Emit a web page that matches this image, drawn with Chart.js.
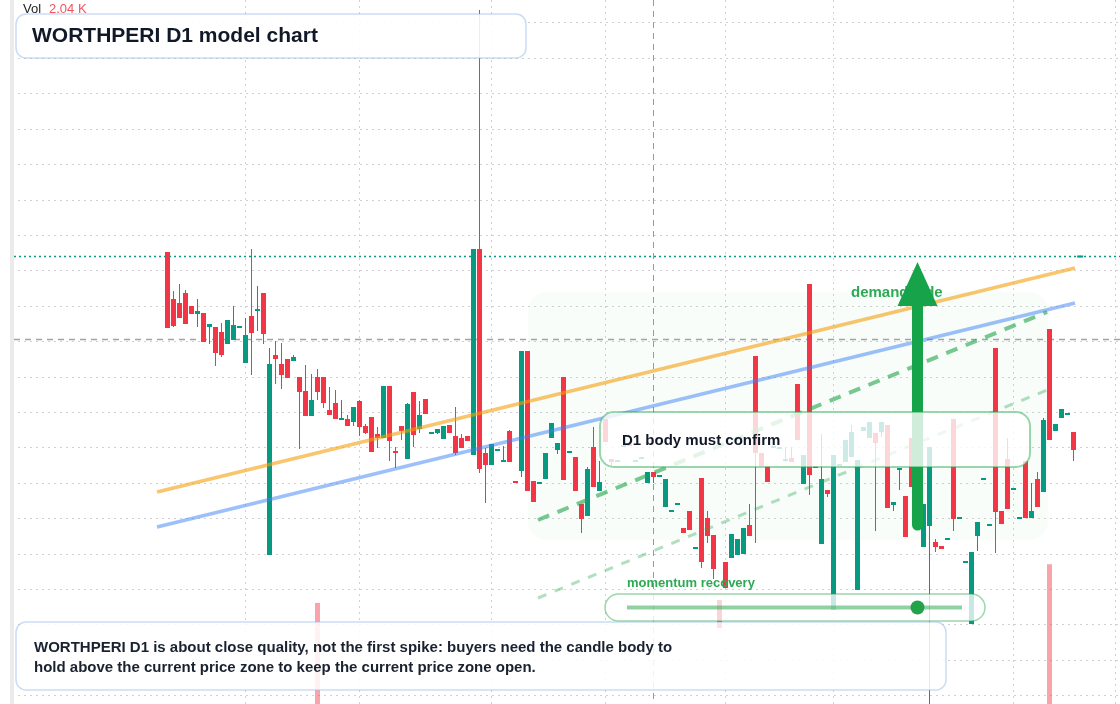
<!DOCTYPE html>
<html>

<head>
  <meta charset="utf-8">
  <title>WORTHPERI D1 model chart</title>
  <style>
    html, body { margin: 0; padding: 0; background: #fff; }
    #wrap { position: relative; width: 1120px; height: 704px; overflow: hidden; }
    #chart { position: absolute; left: 0; top: 0; }
    #edge { position: absolute; left: 0; top: 0; width: 10px; height: 704px; background: #fff; }
    #strip { position: absolute; left: 10px; top: 0; width: 4px; height: 704px; background: #ebebeb; }
  </style>
</head>

<body>
  <div id="wrap">
    <canvas id="chart" width="1120" height="704"></canvas>
    <div id="edge"></div>
    <div id="strip"></div>
  </div>
  <script src="https://cdn.jsdelivr.net/npm/chart.js"></script>
  <script>
    // daily candles, index 0 = first bar on the chart
    const opens = [
      54.8, 50.1, 49.7, 50.7, 49.4, 48.6, 48.7, 47.3, 47.3, 46.8,
      45.6, 46.0, 47.2, 43.7, 48.4, 48.9, 50.7, 24.5, 44.5, 43.6,
      44.1, 43.9, 42.3, 40.9, 38.4, 42.3, 42.3, 39.0, 39.7, 38.0,
      38.1, 37.8, 39.9, 37.4, 38.3, 36.6, 36.2, 41.4, 34.9, 37.4,
      34.1, 40.8, 37.1, 40.1, 36.6, 36.7, 36.1, 37.5, 36.4, 36.2,
      36.4, 34.5, 55.1, 34.7, 33.5, 34.9, 33.8, 36.9, 31.8, 32.9,
      44.9, 31.9, 31.6, 32.1, 36.2, 35.0, 42.3, 34.7, 34.3, 29.6,
      28.4, 35.3, 30.9, 38.1, 34.1, 33.8, 35.3, 35.6, 33.8, 34.1,
      31.7, 32.8, 32.3, 29.3, 28.8, 29.5, 27.2, 28.9, 25.1, 32.2,
      28.2, 26.5, 20.0, 23.8, 24.2, 24.5, 24.6, 27.5, 44.4, 34.7,
      33.4, 35.2, 35.1, 33.9, 34.2, 41.6, 31.6, 51.6, 33.4, 25.6,
      31.0, 19.0, 33.4, 33.8, 34.3, 21.0, 36.9, 36.2, 36.7, 36.8,
      37.5, 29.5, 33.0, 30.4, 36.2, 29.5, 25.3, 27.4, 25.8, 25.4,
      26.0, 38.1, 28.1, 23.7, 17.6, 26.4, 32.0, 27.4, 45.2, 28.9,
      34.1, 31.0, 28.1, 33.9, 28.2, 32.1, 30.8, 47.1, 36.9, 38.2,
      38.5, 36.8
    ];
    const highs = [
      54.8, 50.9, 51.6, 51.0, 49.4, 50.1, 48.7, 47.6, 47.3, 47.7,
      48.0, 49.4, 47.3, 48.2, 55.1, 51.4, 50.7, 45.2, 45.9, 45.7,
      44.1, 44.5, 42.3, 43.5, 42.6, 43.1, 42.3, 41.3, 41.0, 40.0,
      38.5, 39.3, 40.0, 37.6, 38.3, 37.3, 41.4, 41.4, 35.3, 37.4,
      39.7, 40.8, 39.9, 40.1, 36.7, 37.1, 37.4, 37.5, 39.3, 36.6,
      36.4, 55.1, 79.0, 35.2, 35.6, 35.0, 35.4, 37.0, 31.8, 44.9,
      44.9, 31.9, 31.7, 34.7, 37.7, 35.7, 42.3, 34.8, 34.3, 29.6,
      33.3, 37.3, 33.9, 38.1, 34.1, 33.9, 35.4, 35.6, 33.9, 34.2,
      32.8, 32.8, 32.4, 32.1, 28.9, 29.6, 27.2, 28.9, 25.2, 32.2,
      28.9, 26.5, 20.0, 23.8, 26.6, 26.1, 27.2, 29.6, 44.4, 34.7,
      33.4, 35.3, 35.2, 35.3, 35.3, 41.6, 34.5, 51.6, 33.4, 36.6,
      31.0, 34.5, 33.5, 36.0, 37.5, 34.0, 37.3, 37.8, 36.7, 37.8,
      37.5, 29.8, 33.1, 30.4, 36.2, 29.5, 29.6, 35.3, 26.1, 25.4,
      26.1, 38.1, 28.2, 23.8, 24.8, 27.8, 32.1, 27.5, 45.2, 28.9,
      36.2, 31.1, 28.2, 33.9, 31.7, 32.8, 38.2, 47.1, 37.6, 39.1,
      38.6, 36.8
    ];
    const lows = [
      47.2, 47.3, 48.2, 47.6, 48.6, 47.3, 45.8, 45.6, 43.4, 44.3,
      45.6, 46.0, 47.2, 43.7, 42.5, 46.9, 45.6, 24.5, 41.6, 41.1,
      42.2, 43.9, 35.1, 38.4, 38.4, 40.0, 39.2, 38.5, 38.1, 38.0,
      37.4, 37.4, 36.4, 36.6, 34.8, 35.2, 36.2, 33.9, 33.2, 36.0,
      34.1, 35.3, 36.7, 38.6, 36.6, 36.6, 36.1, 36.7, 34.5, 35.2,
      35.9, 34.5, 32.7, 29.7, 33.5, 34.9, 33.8, 33.8, 31.7, 32.3,
      30.9, 29.8, 31.6, 32.1, 36.2, 34.6, 32.0, 34.7, 30.9, 26.7,
      28.4, 31.3, 30.9, 35.8, 33.4, 33.8, 35.3, 35.4, 33.8, 34.1,
      31.7, 31.7, 32.3, 29.3, 28.8, 29.5, 26.7, 27.0, 25.1, 23.2,
      25.7, 22.1, 17.2, 21.2, 24.2, 24.5, 24.6, 26.4, 25.7, 33.4,
      31.8, 35.2, 35.1, 33.8, 33.8, 36.0, 31.6, 30.5, 33.2, 25.6,
      30.3, 19.0, 33.4, 33.8, 34.3, 21.0, 36.9, 36.2, 26.9, 36.3,
      29.2, 28.9, 31.0, 26.3, 31.3, 28.0, 25.3, 9.4, 24.8, 25.1,
      26.0, 26.9, 28.1, 23.7, 17.6, 24.9, 32.0, 27.4, 24.7, 27.6,
      29.1, 31.0, 28.1, 28.2, 28.2, 29.3, 30.8, 36.0, 36.9, 38.2,
      38.5, 33.9
    ];
    const closes = [
      47.2, 47.4, 48.2, 47.6, 48.6, 48.9, 45.8, 47.6, 44.7, 44.5,
      48.0, 47.5, 47.3, 46.5, 46.7, 49.0, 46.6, 43.6, 44.1, 42.5,
      42.2, 44.3, 40.8, 38.4, 40.0, 40.8, 39.7, 38.5, 38.1, 38.1,
      37.4, 39.3, 37.3, 36.7, 34.8, 36.2, 41.4, 35.9, 34.7, 36.9,
      39.6, 36.5, 38.5, 38.6, 36.7, 37.1, 37.4, 36.7, 34.7, 35.2,
      35.9, 55.1, 33.1, 33.5, 35.6, 35.0, 33.9, 33.8, 31.7, 44.9,
      30.9, 29.8, 31.7, 34.7, 37.7, 35.7, 32.0, 34.8, 30.9, 28.1,
      33.1, 31.3, 31.8, 35.8, 33.8, 33.9, 35.4, 35.4, 33.9, 34.2,
      32.8, 32.3, 32.4, 32.1, 28.9, 29.6, 26.7, 27.0, 25.2, 23.8,
      26.4, 23.1, 17.2, 21.2, 26.6, 26.1, 27.2, 26.4, 34.7, 33.4,
      31.8, 35.3, 35.2, 34.0, 33.8, 36.0, 34.5, 32.5, 33.2, 32.1,
      30.6, 34.5, 33.5, 36.0, 36.8, 34.0, 37.3, 37.8, 35.7, 37.8,
      29.2, 29.8, 33.1, 26.3, 31.3, 28.0, 29.6, 35.3, 25.3, 25.1,
      26.1, 28.1, 28.2, 23.8, 24.8, 27.8, 32.1, 27.5, 28.8, 27.6,
      29.1, 31.1, 28.2, 28.2, 28.9, 29.3, 38.0, 36.0, 37.6, 39.1,
      38.6, 35.0
    ];

    // volume pane (thousands), only the tall bars reach into view
    const volumeIdx = [25, 147];
    const volumeK = [2.01, 2.78];

    // drawn levels and trend lines: [bar index, price]
    const orangeTrend = [[-1.75, 30.8], [151.25, 53.2]];
    const blueTrend = [[-1.75, 27.3], [151.25, 49.7]];
    const greenChannel = [[61.75, 28.0], [146.6, 48.8]];
    const greenChannelLow = [[61.75, 20.2], [146.6, 41.0]];
    const lastPrice = 54.4;
    const refPrice = 46.1;
    const cursorIdx = 81;
    const demandZoneX = [60.1, 146.75];
    const demandZoneY = [26.0, 50.8];
    const arrowIdx = 125;
    const arrowPrices = [27.0, 53.8];

    // grid positions
    const gridIdx = [13, 32, 54, 73, 93, 111, 141, 158];
    const gridPrices = [];
    for (let v = 10.44; v < 80; v += 3.54) gridPrices.push(v);

    const UP = '#089981';
    const DOWN = '#f23645';
    const candleColors = opens.map((o, i) => (closes[i] >= o ? UP : DOWN));

    function rr(ctx, x, y, w, h, r) {
      ctx.beginPath();
      ctx.moveTo(x + r, y);
      ctx.arcTo(x + w, y, x + w, y + h, r);
      ctx.arcTo(x + w, y + h, x, y + h, r);
      ctx.arcTo(x, y + h, x, y, r);
      ctx.arcTo(x, y, x + w, y, r);
      ctx.closePath();
    }

    const FONT = '"Liberation Sans", Arial, Helvetica, sans-serif';

    const overlay = {
      id: 'overlay',
      beforeDatasetsDraw(chart) {
        const { ctx, scales: { x, y } } = chart;
        ctx.save();
        // demand zone
        const zx0 = x.getPixelForValue(demandZoneX[0]);
        const zx1 = x.getPixelForValue(demandZoneX[1]);
        const zy0 = y.getPixelForValue(demandZoneY[1]);
        const zy1 = y.getPixelForValue(demandZoneY[0]);
        rr(ctx, zx0, zy0, zx1 - zx0, zy1 - zy0, 18);
        ctx.fillStyle = 'rgba(34,197,94,0.03)';
        ctx.fill();

        // last price dotted
        const ly = Math.round(y.getPixelForValue(lastPrice)) + 0.5;
        ctx.setLineDash([2, 3]);
        ctx.lineWidth = 1.5;
        ctx.strokeStyle = UP;
        ctx.beginPath(); ctx.moveTo(14, ly); ctx.lineTo(1120, ly); ctx.stroke();
        ctx.setLineDash([]);
        ctx.lineWidth = 2;
        ctx.beginPath();
        ctx.moveTo(x.getPixelForValue(151.6), ly);
        ctx.lineTo(x.getPixelForValue(152.6), ly);
        ctx.stroke();

        // reference dashed
        const ry = Math.round(y.getPixelForValue(refPrice)) + 0.5;
        ctx.setLineDash([6, 5]);
        ctx.lineWidth = 1.5;
        ctx.strokeStyle = '#a3a3a3';
        ctx.beginPath(); ctx.moveTo(14, ry); ctx.lineTo(1120, ry); ctx.stroke();

        // cursor
        const cx = x.getPixelForValue(cursorIdx);
        ctx.lineWidth = 1;
        ctx.strokeStyle = '#9a9a9a';
        ctx.beginPath(); ctx.moveTo(cx, 0); ctx.lineTo(cx, 704); ctx.stroke();
        ctx.restore();
      },
      afterDatasetsDraw(chart) {
        const { ctx, scales: { x, y } } = chart;
        ctx.save();
        ctx.textBaseline = 'middle';

        // demand label
        ctx.font = 'bold 15px ' + FONT;
        ctx.fillStyle = '#2eaa55';
        ctx.fillText('demand side', 851, 293);

        // arrow
        const ax = x.getPixelForValue(arrowIdx);
        const aBase = y.getPixelForValue(arrowPrices[0]);
        const aTip = y.getPixelForValue(arrowPrices[1]);
        const headH = 44;
        ctx.strokeStyle = '#16a34a';
        ctx.fillStyle = '#16a34a';
        ctx.lineWidth = 11;
        ctx.lineCap = 'round';
        ctx.beginPath(); ctx.moveTo(ax, aBase - 5); ctx.lineTo(ax, aTip + headH - 2); ctx.stroke();
        ctx.lineCap = 'butt';
        ctx.beginPath();
        ctx.moveTo(ax, aTip);
        ctx.lineTo(ax + 20, aTip + headH);
        ctx.lineTo(ax - 20, aTip + headH);
        ctx.closePath();
        ctx.fill();

        // D1 box
        rr(ctx, 600, 412, 430, 55, 14);
        ctx.fillStyle = 'rgba(255,255,255,0.8)';
        ctx.fill();
        ctx.strokeStyle = 'rgba(34,163,74,0.45)';
        ctx.lineWidth = 2;
        ctx.stroke();
        ctx.font = 'bold 15px ' + FONT;
        ctx.fillStyle = '#111827';
        ctx.fillText('D1 body must confirm', 622, 441);

        // momentum
        ctx.font = 'bold 13px ' + FONT;
        ctx.fillStyle = '#2eaa55';
        ctx.fillText('momentum recovery', 627, 583);
        rr(ctx, 605, 594, 380, 27, 13.5);
        ctx.fillStyle = 'rgba(255,255,255,0.78)';
        ctx.fill();
        ctx.strokeStyle = 'rgba(34,163,74,0.45)';
        ctx.lineWidth = 1.5;
        ctx.stroke();
        ctx.strokeStyle = 'rgba(34,163,74,0.5)';
        ctx.lineWidth = 4;
        ctx.beginPath(); ctx.moveTo(627, 607.5); ctx.lineTo(962, 607.5); ctx.stroke();
        ctx.fillStyle = '#22a34a';
        ctx.beginPath(); ctx.arc(ax, 607.5, 7, 0, Math.PI * 2); ctx.fill();

        // note box
        rr(ctx, 16, 622, 930, 68, 10);
        ctx.fillStyle = 'rgba(255,255,255,0.86)';
        ctx.fill();
        ctx.strokeStyle = 'rgba(150,185,235,0.5)';
        ctx.lineWidth = 1.5;
        ctx.stroke();
        ctx.font = 'bold 15px ' + FONT;
        ctx.fillStyle = '#1a2230';
        ctx.fillText('WORTHPERI D1 is about close quality, not the first spike: buyers need the candle body to', 34, 648);
        ctx.fillText('hold above the current price zone to keep the current price zone open.', 34, 668);

        // title box
        rr(ctx, 16, 14, 510, 44, 10);
        ctx.fillStyle = 'rgba(255,255,255,0.88)';
        ctx.fill();
        ctx.strokeStyle = 'rgba(150,185,235,0.5)';
        ctx.lineWidth = 1.5;
        ctx.stroke();
        ctx.font = 'bold 21px ' + FONT;
        ctx.fillStyle = '#111827';
        ctx.fillText('WORTHPERI D1 model chart', 32, 36);

        // volume legend
        ctx.font = '13px ' + FONT;
        ctx.fillStyle = '#222';
        ctx.fillText('Vol', 23, 9);
        ctx.fillStyle = '#f4525e';
        ctx.fillText('2.04 K', 49, 9);
        ctx.restore();
      }
    };

    const lineSet = (pts, color, width, dash, order) => ({
      type: 'line',
      data: pts.map(p => ({ x: p[0], y: p[1] })),
      borderColor: color,
      borderWidth: width,
      borderDash: dash,
      pointRadius: 0,
      fill: false,
      order: order
    });

    document.addEventListener('DOMContentLoaded', () => {
      const ctx = document.getElementById('chart').getContext('2d');
      new Chart(ctx, {
        type: 'bar',
        data: {
          datasets: [
            lineSet(orangeTrend, 'rgba(245,158,11,0.6)', 3.5, [], 1),
            lineSet(blueTrend, 'rgba(59,130,246,0.5)', 3.5, [], 1),
            lineSet(greenChannel, 'rgba(34,163,74,0.6)', 4, [12, 9], 1),
            lineSet(greenChannelLow, 'rgba(34,163,74,0.35)', 3, [9, 9], 1),
            {
              data: opens.map((o, i) => ({ x: i, y: [o, closes[i]] })),
              backgroundColor: candleColors,
              barThickness: 5,
              minBarLength: 2,
              grouped: false,
              inflateAmount: 0,
              borderWidth: 0,
              order: 3
            },
            {
              data: opens.map((o, i) => ({ x: i, y: [lows[i], highs[i]] })),
              backgroundColor: candleColors,
              barThickness: 1,
              grouped: false,
              inflateAmount: 0,
              borderWidth: 0,
              order: 4
            },
            {
              data: volumeIdx.map((v, i) => ({ x: v, y: volumeK[i] })),
              yAxisID: 'yVol',
              backgroundColor: 'rgba(242,54,69,0.45)',
              barThickness: 5,
              grouped: false,
              inflateAmount: 0,
              borderWidth: 0,
              order: 5
            }
          ]
        },
        options: {
          responsive: false,
          animation: false,
          devicePixelRatio: 1,
          layout: { padding: 0 },
          plugins: { legend: { display: false }, tooltip: { enabled: false } },
          scales: {
            x: {
              type: 'linear',
              min: -27.9167,
              max: 158.75,
              offset: false,
              bounds: 'data',
              ticks: { display: false },
              grid: { color: 'rgba(0,0,0,0.18)', drawTicks: false, offset: false },
              border: { display: false, dash: [2, 4] },
              afterBuildTicks: s => { s.ticks = gridIdx.map(v => ({ value: v })); },
              afterFit: s => { s.height = 0; }
            },
            y: {
              type: 'linear',
              position: 'right',
              min: 9.6,
              max: 80,
              bounds: 'data',
              ticks: { display: false },
              grid: { color: 'rgba(0,0,0,0.18)', drawTicks: false },
              border: { display: false, dash: [2, 4] },
              afterBuildTicks: s => { s.ticks = gridPrices.map(v => ({ value: v })); },
              afterFit: s => { s.width = 0; }
            },
            yVol: { type: 'linear', display: false, min: 0, max: 14 }
          }
        },
        plugins: [overlay]
      });
    });
  </script>
</body>

</html>
